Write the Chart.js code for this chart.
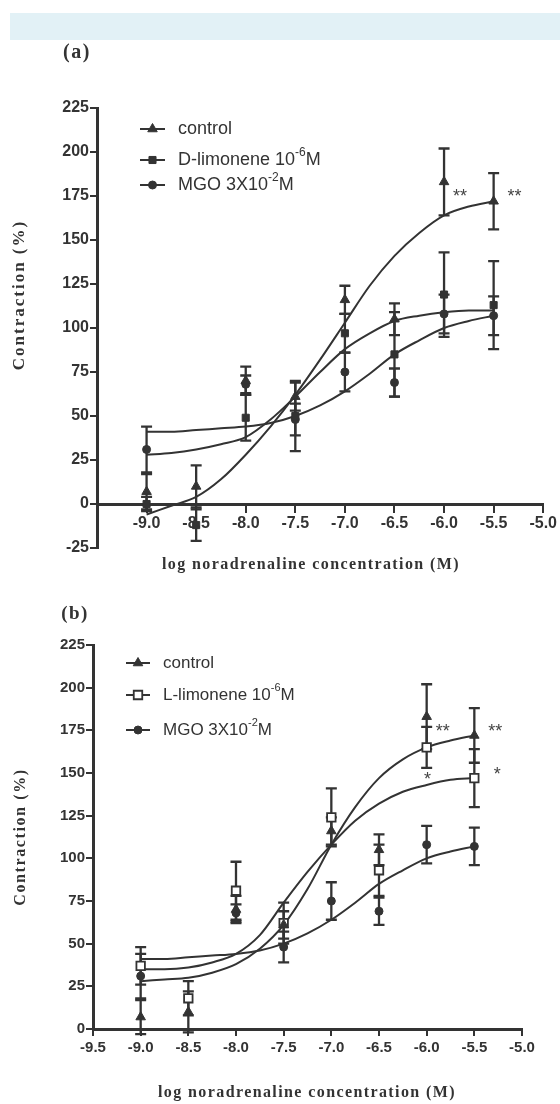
<!DOCTYPE html>
<html><head><meta charset="utf-8">
<script src="https://cdn.jsdelivr.net/npm/chart.js@4.4.1/dist/chart.umd.min.js"></script>
<style>
html,body{margin:0;padding:0;background:#fff;}
body{width:560px;height:1104px;position:relative;overflow:hidden;}
#banner{position:absolute;left:10px;top:13px;width:550px;height:27px;background:#e2f1f6;}
#ca{position:absolute;left:0;top:40px;}
#cb{position:absolute;left:0;top:600px;}
</style></head><body>
<div id="banner"></div>
<canvas id="ca" width="560" height="560"></canvas>
<canvas id="cb" width="560" height="504"></canvas>
<script>
const INK = '#333333';

// log noradrenaline concentration (M) where responses were measured
const logConc = [-9.0, -8.5, -8.0, -7.5, -7.0, -6.5, -6.0, -5.5];

// mean contraction (%) and SEM
const controlMean = [7, 10, 70, 61, 116, 105, 183, 172];
const controlSEM  = [10, 12, 8, 8, 8, 9, 19, 16];
const dLimMean    = [0, -12, 49, 50, 97, 85, 119, 113];
const dLimSEM     = [4, 9, 13, 20, 11, 24, 24, 25];
const mgoMean     = [31, null, 68, 48, 75, 69, 108, 107];
const mgoSEM      = [13, null, 5, 9, 11, 8, 11, 11];
const lLimMean    = [37, 18, 81, 62, 124, 93, 165, 147];
const lLimSEM     = [11, 10, 17, 12, 17, 15, 12, 17];

// fitted curves
const fitX        = [-9.0, -8.75, -8.5, -8.25, -8.0, -7.75, -7.5, -7.25, -7.0, -6.75, -6.5, -6.25, -6.0, -5.75, -5.5];
const controlFitA = [-6, -1, 4, 14, 28, 44, 62, 82, 103, 124, 141, 154, 164, 169, 172];
const dLimFitA    = [28, 29, 31, 34, 38, 48, 61, 75, 88, 97, 104, 107, 109, 110, 110];
const mgoFit      = [41, 41, 42, 43, 44, 46, 50, 56, 64, 74, 85, 93, 100, 104, 107];
const controlFitB = [28, 29, 30, 33, 38, 47, 61, 82, 108, 130, 147, 158, 165, 169, 172];
const lLimFitB    = [35, 35, 36, 39, 44, 55, 74, 92, 108, 122, 132, 139, 143, 146, 147];

// significance marks [logConc, contraction, label]
const starsA = [[-5.84, 177, '**'], [-5.29, 177, '**']];
const starsB = [[-5.83, 177, '**'], [-5.28, 177, '**'], [-5.99, 149, '*'], [-5.26, 152, '*']];

// axis ranges / ticks
const xMin = -9.5, xMax = -5.0, xStep = 0.5;
const yMaxAll = 225, yStep = 25, yMinA = -25, yMinB = 0;

const xTitle = 'log noradrenaline concentration (M)';
const yTitle = 'Contraction (%)';

function pts(xs, ys){ return xs.map((x,i)=>({x:x, y:ys[i]})).filter(p=>p.y!=null); }
function scatterDS(label, ys, style, r, fill){
  return {type:'scatter', label, data: pts(logConc, ys), pointStyle: style, pointRadius: r, pointHoverRadius: r,
    backgroundColor: fill, borderColor: INK, borderWidth: fill === INK ? 1 : 1.8, showLine:false};
}
function fitDS(label, ys){
  return {type:'line', label, data: pts(fitX, ys), borderColor: INK, borderWidth: 2, pointRadius: 0,
    fill:false, cubicInterpolationMode:'monotone'};
}

function drawMarker(ctx, style, x, y, r, fill){
  ctx.save(); ctx.fillStyle = fill; ctx.strokeStyle = INK; ctx.lineWidth = fill === INK ? 1 : 1.8;
  ctx.beginPath();
  if (style === 'triangle'){ ctx.moveTo(x, y - r); ctx.lineTo(x + r*0.866, y + r*0.5); ctx.lineTo(x - r*0.866, y + r*0.5); ctx.closePath(); }
  else if (style === 'rect'){ const s = r*Math.SQRT1_2; ctx.rect(x-s, y-s, 2*s, 2*s); }
  else { ctx.arc(x, y, r, 0, Math.PI*2); }
  ctx.fill(); ctx.stroke(); ctx.restore();
}

function drawText(ctx, t){
  ctx.save();
  ctx.font = t.font; ctx.fillStyle = t.color || INK;
  if ('letterSpacing' in ctx) ctx.letterSpacing = (t.spacing || 0) + 'px';
  ctx.textAlign = 'center'; ctx.textBaseline = 'middle';
  ctx.translate(t.x, t.y); if (t.rot) ctx.rotate(t.rot);
  ctx.fillText(t.text, 0, 0);
  ctx.restore();
}

const annotPlugin = {
  id: 'annot',
  beforeDatasetsDraw(chart, args, opts){
    const ctx = chart.ctx, xs = chart.scales.x, ys = chart.scales.y;
    ctx.save(); ctx.strokeStyle = INK; ctx.lineWidth = 2.3;
    (opts.errorBars || []).forEach(s => {
      s.values.forEach((v, i) => {
        if (v == null) return;
        const e = s.err[i];
        const px = xs.getPixelForValue(logConc[i]);
        const top = ys.getPixelForValue(v + e), bot = ys.getPixelForValue(v - e);
        ctx.beginPath();
        ctx.moveTo(px, top); ctx.lineTo(px, bot);
        ctx.moveTo(px - 5.5, top); ctx.lineTo(px + 5.5, top);
        ctx.moveTo(px - 5.5, bot); ctx.lineTo(px + 5.5, bot);
        ctx.stroke();
      });
    });
    ctx.restore();
  },
  afterDraw(chart, args, opts){
    const ctx = chart.ctx, xs = chart.scales.x, ys = chart.scales.y;
    // stars
    ctx.save();
    ctx.font = '18px "Liberation Sans", Arial, sans-serif'; ctx.fillStyle = '#444';
    ctx.textAlign = 'center'; ctx.textBaseline = 'alphabetic';
    (opts.stars || []).forEach(s => {
      ctx.fillText(s[2], xs.getPixelForValue(s[0]), ys.getPixelForValue(s[1]) + 10);
    });
    ctx.restore();
    // legend
    const lg = opts.legend;
    if (lg){
      lg.items.forEach((it, k) => {
        const y = lg.ys[k];
        ctx.save(); ctx.strokeStyle = INK; ctx.lineWidth = 2;
        ctx.beginPath(); ctx.moveTo(lg.x, y); ctx.lineTo(lg.x + lg.len, y); ctx.stroke(); ctx.restore();
        drawMarker(ctx, it.style, lg.x + lg.len/2, y, it.r, it.fill);
        let tx = lg.tx;
        ctx.save(); ctx.fillStyle = INK; ctx.textAlign = 'left'; ctx.textBaseline = 'middle';
        it.parts.forEach(p => {
          const sup = p[1];
          ctx.font = (sup ? lg.supSize : lg.size) + 'px "Liberation Sans", Arial, sans-serif';
          ctx.fillText(p[0], tx, sup ? y - lg.supRaise : y);
          tx += ctx.measureText(p[0]).width;
        });
        ctx.restore();
      });
    }
    (opts.texts || []).forEach(t => drawText(ctx, t));
  }
};

function makeScales(yMin, showFirstX, xPos, tickSize, yWidth){
  const tickFont = {family: '"Liberation Sans", Arial, sans-serif', size: tickSize, weight: 'bold'};
  const grid = {drawOnChartArea: false, drawTicks: true, tickLength: 7, lineWidth: 2, color: INK};
  const border = {display: true, color: INK, width: 3};
  return {
    x: {
      type: 'linear', position: xPos, min: xMin, max: xMax,
      afterFit: s => { s.height = 40; },
      ticks: {stepSize: xStep, padding: 3, color: INK, font: tickFont, autoSkip: false, maxRotation: 0,
        callback: v => (!showFirstX && v <= xMin) ? '' : Number(v).toFixed(1)},
      grid: grid, border: border
    },
    y: {
      type: 'linear', position: 'left', min: yMin, max: yMaxAll,
      afterFit: s => { s.width = yWidth; },
      ticks: {stepSize: yStep, padding: 1, color: INK, font: tickFont},
      grid: grid, border: border
    }
  };
}

new Chart(document.getElementById('ca'), {
  type: 'scatter',
  data: {datasets: [
    scatterDS('control', controlMean, 'triangle', 5.5, INK),
    scatterDS('D-limonene 10-6M', dLimMean, 'rect', 5, INK),
    scatterDS('MGO 3X10-2M', mgoMean, 'circle', 4, INK),
    fitDS('control fit', controlFitA),
    fitDS('D-limonene fit', dLimFitA),
    fitDS('MGO fit', mgoFit)
  ]},
  options: {
    responsive: false, animation: false,
    layout: {padding: {top: 68, right: 16, bottom: 52, left: 0}},
    scales: makeScales(yMinA, false, {y: 0}, 16, 97),
    plugins: {
      legend: {display: false}, tooltip: {enabled: false},
      annot: {
        errorBars: [
          {values: controlMean, err: controlSEM},
          {values: dLimMean, err: dLimSEM},
          {values: mgoMean, err: mgoSEM}
        ],
        stars: starsA,
        legend: {x: 140, len: 25, tx: 178, ys: [89, 120, 145], size: 18, supSize: 12, supRaise: 7,
          items: [
            {style: 'triangle', r: 5.5, fill: INK, parts: [['control']]},
            {style: 'rect', r: 5, fill: INK, parts: [['D-limonene 10'], ['-6', 1], ['M']]},
            {style: 'circle', r: 4, fill: INK, parts: [['MGO 3X10'], ['-2', 1], ['M']]}
          ]},
        texts: [
          {text: '(a)', x: 77, y: 13, font: 'bold 20px "Liberation Serif", serif', spacing: 1.5},
          {text: xTitle, x: 311, y: 525, font: 'bold 16px "Liberation Serif", serif', spacing: 1.4},
          {text: yTitle, x: 20, y: 255, font: 'bold 17px "Liberation Serif", serif', spacing: 2, rot: -Math.PI/2}
        ]
      }
    }
  },
  plugins: [annotPlugin]
});

new Chart(document.getElementById('cb'), {
  type: 'scatter',
  data: {datasets: [
    scatterDS('control', controlMean, 'triangle', 5.5, INK),
    scatterDS('L-limonene 10-6M', lLimMean, 'rect', 6, '#ffffff'),
    scatterDS('MGO 3X10-2M', mgoMean, 'circle', 4, INK),
    fitDS('control fit', controlFitB),
    fitDS('L-limonene fit', lLimFitB),
    fitDS('MGO fit', mgoFit)
  ]},
  options: {
    responsive: false, animation: false,
    layout: {padding: {top: 45, right: 38, bottom: 35, left: 0}},
    scales: makeScales(yMinB, true, 'bottom', 15, 93),
    plugins: {
      legend: {display: false}, tooltip: {enabled: false},
      annot: {
        errorBars: [
          {values: controlMean, err: controlSEM},
          {values: lLimMean, err: lLimSEM},
          {values: mgoMean, err: mgoSEM}
        ],
        stars: starsB,
        legend: {x: 126, len: 24, tx: 163, ys: [63, 95, 130], size: 17, supSize: 11, supRaise: 7,
          items: [
            {style: 'triangle', r: 5.5, fill: INK, parts: [['control']]},
            {style: 'rect', r: 6, fill: '#ffffff', parts: [['L-limonene 10'], ['-6', 1], ['M']]},
            {style: 'circle', r: 4, fill: INK, parts: [['MGO 3X10'], ['-2', 1], ['M']]}
          ]},
        texts: [
          {text: '(b)', x: 75, y: 14, font: 'bold 19px "Liberation Serif", serif', spacing: 1.5},
          {text: xTitle, x: 307, y: 493, font: 'bold 16px "Liberation Serif", serif', spacing: 1.4},
          {text: yTitle, x: 21, y: 237, font: 'bold 16px "Liberation Serif", serif', spacing: 1.6, rot: -Math.PI/2}
        ]
      }
    }
  },
  plugins: [annotPlugin]
});
</script>
</body></html>
